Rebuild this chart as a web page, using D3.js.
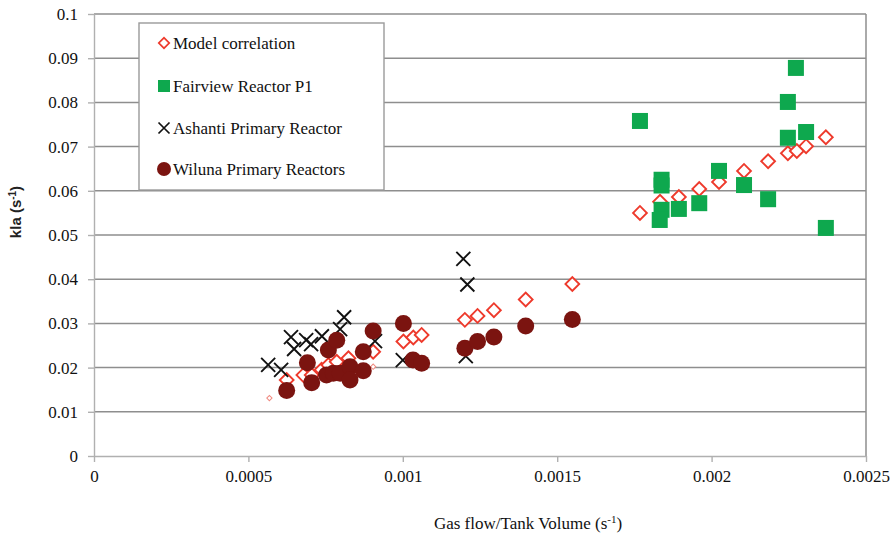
<!DOCTYPE html>
<html>
<head>
<meta charset="utf-8">
<script src="https://cdn.jsdelivr.net/npm/d3@7"></script>
<style>
  body { margin: 0; background: #fff; }
  svg { display: block; }
</style>
</head>
<body>
<svg id="drawing_region"></svg>
<script>
// ---- data ----
const xTicks = [0, 0.0005, 0.001, 0.0015, 0.002, 0.0025];
const xTickLabels = ['0', '0.0005', '0.001', '0.0015', '0.002', '0.0025'];
const yTicks = [0, 0.01, 0.02, 0.03, 0.04, 0.05, 0.06, 0.07, 0.08, 0.09, 0.1];
const yTickLabels = ['0', '0.01', '0.02', '0.03', '0.04', '0.05', '0.06', '0.07', '0.08', '0.09', '0.1'];

const seriesNames = ['Model correlation', 'Fairview Reactor P1', 'Ashanti Primary Reactor', 'Wiluna Primary Reactors'];

// Model correlation (red open diamonds)
const modelX = [0.000624, 0.000678, 0.000705, 0.000737, 0.000759, 0.000786, 0.000824, 0.000904,
  0.001002, 0.001034, 0.001061, 0.001201, 0.001242, 0.001295, 0.001398, 0.001549,
  0.001768, 0.001833, 0.001894, 0.00196, 0.002024, 0.002105, 0.002183, 0.002247, 0.002276, 0.002306, 0.00237];
const modelY = [0.0172, 0.0183, 0.0183, 0.0195, 0.0206, 0.0213, 0.0221, 0.0236,
  0.0259, 0.0268, 0.0274, 0.0308, 0.0317, 0.0330, 0.0354, 0.0389,
  0.0550, 0.0575, 0.0586, 0.0604, 0.0620, 0.0645, 0.0667, 0.0685, 0.0690, 0.0701, 0.0721];
// two faint small diamonds
const modelSmallX = [0.000568, 0.000904];
const modelSmallY = [0.0131, 0.0202];

// Fairview Reactor P1 (green squares)
const fairviewX = [0.001768, 0.001838, 0.001838, 0.001838, 0.001832, 0.001894, 0.00196, 0.002024,
  0.002105, 0.002183, 0.002247, 0.002273, 0.002247, 0.002306, 0.00237];
const fairviewY = [0.0758, 0.0625, 0.0612, 0.0557, 0.0534, 0.0559, 0.0572, 0.0645,
  0.0613, 0.0581, 0.0801, 0.0878, 0.0720, 0.0733, 0.0516];

// Ashanti Primary Reactor (black crosses)
const ashantiX = [0.000564, 0.000606, 0.000638, 0.000648, 0.000687, 0.000703, 0.000738, 0.00081, 0.000797,
  0.00091, 0.001, 0.001196, 0.001209, 0.001204];
const ashantiY = [0.0206, 0.0195, 0.0269, 0.0242, 0.0262, 0.0253, 0.0271, 0.0314, 0.0287,
  0.0260, 0.0217, 0.0446, 0.0388, 0.0226];

// Wiluna Primary Reactors (dark red circles)
const wilunaX = [0.000624, 0.000691, 0.000705, 0.000759, 0.000786, 0.000753, 0.000775, 0.000797,
  0.000829, 0.000829, 0.000872, 0.000872, 0.000904, 0.001002, 0.001033, 0.001061,
  0.001201, 0.001242, 0.001295, 0.001398, 0.001549];
const wilunaY = [0.0148, 0.0211, 0.0166, 0.0240, 0.0262, 0.0183, 0.0187, 0.0187,
  0.0202, 0.0172, 0.0236, 0.0193, 0.0283, 0.0300, 0.0217, 0.0210,
  0.0244, 0.0259, 0.0269, 0.0294, 0.0309];

const zip = (xs, ys) => xs.map((x, i) => ({x: x, y: ys[i]}));

// ---- chart ----
const width = 896, height = 538;
const margin = {top: 14, right: 30, bottom: 82, left: 94};
const innerW = width - margin.left - margin.right;
const innerH = height - margin.top - margin.bottom;

const RED = '#ee3a2c', GREEN = '#0ea84e', DARK = '#7b1410';
const serif = '"Liberation Serif", "Times New Roman", serif';

const svg = d3.select('#drawing_region')
  .attr('width', width)
  .attr('height', height);

const chart = svg.append('g')
  .attr('transform', `translate(${margin.left}, ${margin.top})`);

const xscale = d3.scaleLinear().domain([0, 0.0025]).range([0, innerW]);
const yscale = d3.scaleLinear().domain([0, 0.1]).range([innerH, 0]);

// grid lines
chart.append('g')
  .selectAll('line')
  .data(yTicks.slice(1))
  .join('line')
  .attr('x1', 0).attr('x2', innerW)
  .attr('y1', d => yscale(d)).attr('y2', d => yscale(d))
  .attr('stroke', '#8e8e8e')
  .attr('stroke-width', 1.5);

// right border
chart.append('line')
  .attr('x1', innerW).attr('x2', innerW)
  .attr('y1', 0).attr('y2', innerH)
  .attr('stroke', '#8e8e8e')
  .attr('stroke-width', 1.5);

// axes
const xaxis = d3.axisBottom(xscale)
  .tickValues(xTicks)
  .tickFormat((d, i) => xTickLabels[i])
  .tickSize(6)
  .tickSizeOuter(0)
  .tickPadding(8);

const yaxis = d3.axisLeft(yscale)
  .tickValues(yTicks)
  .tickFormat((d, i) => yTickLabels[i])
  .tickSize(6)
  .tickSizeOuter(0)
  .tickPadding(10);

const xg = chart.append('g')
  .attr('transform', `translate(0, ${innerH})`)
  .call(xaxis);
const yg = chart.append('g').call(yaxis);

[xg, yg].forEach(g => {
  g.select('.domain').attr('stroke', '#b0b0b0').attr('stroke-width', 1.4);
  g.selectAll('.tick line').attr('stroke', '#b0b0b0').attr('stroke-width', 1.4);
  g.selectAll('.tick text')
    .attr('fill', '#111')
    .style('font-family', serif)
    .style('font-size', '17px');
});

// markers
chart.append('g')
  .selectAll('path')
  .data(zip(modelSmallX, modelSmallY))
  .join('path')
  .attr('d', d3.symbol().type(d3.symbolSquare).size(14)())
  .attr('transform', d => `translate(${xscale(d.x)}, ${yscale(d.y)}) rotate(45)`)
  .attr('fill', '#fff')
  .attr('stroke', '#f08a80')
  .attr('stroke-width', 1);

chart.append('g')
  .selectAll('path')
  .data(zip(modelX, modelY))
  .join('path')
  .attr('d', d3.symbol().type(d3.symbolSquare).size(95)())
  .attr('transform', d => `translate(${xscale(d.x)}, ${yscale(d.y)}) rotate(45)`)
  .attr('fill', '#fff')
  .attr('stroke', RED)
  .attr('stroke-width', 1.9);

chart.append('g')
  .selectAll('rect')
  .data(zip(fairviewX, fairviewY))
  .join('rect')
  .attr('x', d => xscale(d.x) - 8)
  .attr('y', d => yscale(d.y) - 8)
  .attr('width', 16)
  .attr('height', 16)
  .attr('fill', GREEN);

const cross = 'M-7,-7L7,7M-7,7L7,-7';
chart.append('g')
  .selectAll('path')
  .data(zip(ashantiX, ashantiY))
  .join('path')
  .attr('d', cross)
  .attr('transform', d => `translate(${xscale(d.x)}, ${yscale(d.y)})`)
  .attr('fill', 'none')
  .attr('stroke', '#111')
  .attr('stroke-width', 1.9);

chart.append('g')
  .selectAll('circle')
  .data(zip(wilunaX, wilunaY))
  .join('circle')
  .attr('cx', d => xscale(d.x))
  .attr('cy', d => yscale(d.y))
  .attr('r', 8.5)
  .attr('fill', DARK);

// legend
const legend = svg.append('g').attr('transform', 'translate(139, 23)');
legend.append('rect')
  .attr('width', 245).attr('height', 167)
  .attr('fill', '#fff')
  .attr('stroke', '#9a9a9a')
  .attr('stroke-width', 1.4);

const rowY = [20, 63, 105, 146];
seriesNames.forEach((name, i) => {
  const row = legend.append('g').attr('transform', `translate(25, ${rowY[i]})`);
  if (i === 0) {
    row.append('path').attr('d', d3.symbol().type(d3.symbolSquare).size(55)())
      .attr('transform', 'rotate(45)')
      .attr('fill', '#fff').attr('stroke', RED).attr('stroke-width', 1.7);
  } else if (i === 1) {
    row.append('rect').attr('x', -6).attr('y', -6).attr('width', 12).attr('height', 12).attr('fill', GREEN);
  } else if (i === 2) {
    row.append('path').attr('d', 'M-5.5,-5.5L5.5,5.5M-5.5,5.5L5.5,-5.5').attr('stroke', '#111').attr('stroke-width', 1.7);
  } else {
    row.append('circle').attr('r', 7).attr('fill', DARK);
  }
  row.append('text')
    .attr('x', 9).attr('y', 6)
    .style('font-family', serif)
    .style('font-size', '17px')
    .attr('fill', '#111')
    .text(name);
});

// axis titles
const xt = svg.append('text')
  .attr('x', 528).attr('y', 529)
  .attr('text-anchor', 'middle')
  .style('font-family', serif)
  .style('font-size', '17px')
  .attr('fill', '#111');
xt.append('tspan').text('Gas flow/Tank Volume (s');
xt.append('tspan').attr('dy', -6).style('font-size', '11px').text('-1');
xt.append('tspan').attr('dy', 6).text(')');

const yt = svg.append('text')
  .attr('transform', 'translate(21, 212) rotate(-90)')
  .attr('text-anchor', 'middle')
  .style('font-family', '"Liberation Sans", Arial, sans-serif')
  .style('font-size', '15px')
  .style('font-weight', 'bold')
  .attr('fill', '#222');
yt.append('tspan').text('kla (s');
yt.append('tspan').attr('dy', -5).style('font-size', '10px').text('-1');
yt.append('tspan').attr('dy', 5).text(')');
</script>
</body>
</html>
